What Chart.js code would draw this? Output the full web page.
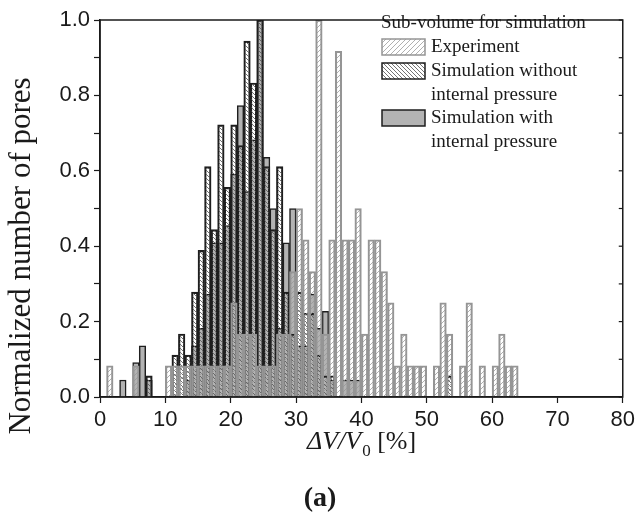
<!DOCTYPE html>
<html><head><meta charset="utf-8">
<script src="https://cdn.jsdelivr.net/npm/chart.js@4.4.0/dist/chart.umd.min.js"></script>
<style>html,body{margin:0;padding:0;background:#fff;}#wrap{width:639px;height:523px;}</style>
</head><body><div id="wrap"><canvas id="c" width="639" height="523"></canvas></div>
<script>
// ---- data (bin start in %, normalized counts) ----
const xTicks = [0, 10, 20, 30, 40, 50, 60, 70, 80];
const yTicks = [0.0, 0.2, 0.4, 0.6, 0.8, 1.0];
const seriesNames = ['Experiment', 'Simulation without internal pressure', 'Simulation with internal pressure'];
const legendTitle = 'Sub-volume for simulation';

const expBins = [1,5,10,11,12,13,14,15,16,17,18,19,20,21,22,23,24,25,26,27,28,29,30,31,32,33,34,35,36,37,38,39,40,41,42,43,44,45,46,47,48,49,51,52,53,55,56,58,60,61,62,63];
const expValues = [0.083,0.083,
  0.083,0.083,0.083,0.083,0.083,0.083,0.083,0.083,0.083,0.083,
  0.25,0.167,0.167,0.167,0.083,0.083,0.083,0.167,0.167,0.333,
  0.5,0.417,0.333,1.0,0.167,0.417,0.917,0.417,0.417,0.5,
  0.167,0.417,0.417,0.333,0.25,0.083,0.167,0.083,0.083,0.083,
  0.083,0.25,0.167,0.083,0.25,0.083,0.083,0.167,0.083,0.083];

const simNoBins = [7,11,12,13,14,15,16,17,18,19,20,21,22,23,24,25,26,27,28,29,30,31,32,33,34,35,53];
const simNoValues = [0.056,0.111,0.167,0.111,0.278,0.389,0.611,0.444,0.722,0.556,0.722,0.667,0.944,0.833,1.0,0.611,0.444,0.611,0.278,0.167,0.278,0.222,0.222,0.111,0.056,0.056,0.056];

const simWithBins = [3,5,6,7,13,14,15,16,17,18,19,20,21,22,23,24,25,26,27,28,29,30,31,32,33,34,35,37,38,39];
const simWithValues = [0.045,0.091,0.136,0.045,0.045,0.136,0.182,0.273,0.409,0.409,0.455,0.591,0.773,0.545,0.682,1.0,0.636,0.5,0.182,0.409,0.5,0.136,0.136,0.273,0.182,0.227,0.045,0.045,0.045,0.045];

const binWidth = 1;

// ---- styling helpers ----
function hatch(color, size, dir, lw) {
  const c = document.createElement('canvas');
  c.width = c.height = size;
  const g = c.getContext('2d');
  g.strokeStyle = color; g.lineWidth = lw;
  g.beginPath();
  if (dir === '/') {
    g.moveTo(0, size); g.lineTo(size, 0);
    g.moveTo(-size, size); g.lineTo(size, -size);
    g.moveTo(0, 2*size); g.lineTo(2*size, 0);
  } else {
    g.moveTo(0, 0); g.lineTo(size, size);
    g.moveTo(-size, 0); g.lineTo(size, 2*size);
    g.moveTo(0, -size); g.lineTo(2*size, size);
  }
  g.stroke();
  return g.createPattern(c, 'repeat');
}
const ctx = document.getElementById('c').getContext('2d');
const expFill = hatch('rgba(150,150,150,0.75)', 5, '/', 1);
const noFill = hatch('rgba(90,90,90,0.85)', 4, '\\', 1);
const withFill = '#b3b3b3';
const expBorder = '#959595';
const darkBorder = '#1e1e1e';

function toPoints(bins, vals) { return bins.map((b, i) => ({ x: b + binWidth / 2, y: vals[i] })); }

const ink = '#1a1a1a';
const serif = '"Liberation Serif", "Times New Roman", serif';
const sans = '"Liberation Sans", Arial, sans-serif';

const decor = {
  id: 'decor',
  afterDraw(chart) {
    const g = chart.ctx, a = chart.chartArea;
    g.save();
    // frame
    g.strokeStyle = ink; g.lineWidth = 1.5;
    g.strokeRect(a.left, a.top, a.right - a.left, a.bottom - a.top);
    // mirrored inward ticks on right axis
    const ys = chart.scales.y;
    g.lineWidth = 1.2;
    for (let v = 0; v <= 1.0001; v += 0.1) {
      const py = ys.getPixelForValue(v);
      g.beginPath(); g.moveTo(a.right, py); g.lineTo(a.right - 4, py); g.stroke();
    }
    g.fillStyle = ink;
    // y title
    g.save();
    g.translate(22, 256); g.rotate(-Math.PI / 2);
    g.font = '31px ' + serif; g.textAlign = 'center'; g.textBaseline = 'middle';
    g.fillText('Normalized number of pores', 0, 0);
    g.restore();
    // x title with subscript
    g.textBaseline = 'alphabetic'; g.textAlign = 'left';
    const f1 = 'italic 26px ' + serif, f2 = '17px ' + serif, f3 = '26px ' + serif;
    const t1 = '\u0394V/V', t2 = '0', t3 = ' [%]';
    g.font = f1; const w1 = g.measureText(t1).width;
    g.font = f2; const w2 = g.measureText(t2).width;
    g.font = f3; const w3 = g.measureText(t3).width;
    let x0 = 361 - (w1 + w2 + w3) / 2, by = 449;
    g.font = f1; g.fillText(t1, x0, by);
    g.font = f2; g.fillText(t2, x0 + w1 + 1, by + 7);
    g.font = f3; g.fillText(t3, x0 + w1 + w2 + 1, by);
    // (a)
    g.font = 'bold 28px ' + serif; g.textAlign = 'center';
    g.fillText('(a)', 320, 506);
    // legend
    g.textAlign = 'left'; g.textBaseline = 'middle';
    g.font = '19px ' + serif;
    g.fillText(legendTitle, 381, 23);
    const bx = 382, bw = 43, bh = 16;
    const items = [
      { y: 47, fill: expFill, border: expBorder, lines: ['Experiment'] },
      { y: 71, fill: noFill, border: darkBorder, lines: ['Simulation without', 'internal pressure'] },
      { y: 118, fill: withFill, border: darkBorder, lines: ['Simulation with', 'internal pressure'] }
    ];
    items.forEach(it => {
      g.fillStyle = '#fff'; g.fillRect(bx, it.y - bh/2, bw, bh);
      g.fillStyle = it.fill; g.fillRect(bx, it.y - bh/2, bw, bh);
      g.strokeStyle = it.border; g.lineWidth = 1.5; g.strokeRect(bx, it.y - bh/2, bw, bh);
      g.fillStyle = ink;
      it.lines.forEach((l, k) => g.fillText(l, 431, it.y + k * 24));
    });
    g.restore();
  }
};

const barOpts = { grouped: false, barPercentage: 1, categoryPercentage: 1, borderWidth: 1.5, borderSkipped: 'start' };

new Chart(ctx, {
  type: 'bar',
  data: {
    datasets: [
      Object.assign({ label: seriesNames[0], data: toPoints(expBins, expValues), backgroundColor: expFill, borderColor: expBorder }, barOpts),
      Object.assign({ label: seriesNames[1], data: toPoints(simNoBins, simNoValues), backgroundColor: noFill, borderColor: darkBorder }, barOpts),
      Object.assign({ label: seriesNames[2], data: toPoints(simWithBins, simWithValues), backgroundColor: withFill, borderColor: darkBorder }, barOpts)
    ]
  },
  options: {
    responsive: false, animation: false, devicePixelRatio: 1,
    layout: { padding: { left: 0, right: 12, top: 20, bottom: 0 } },
    plugins: { legend: { display: false }, tooltip: { enabled: false } },
    scales: {
      x: {
        type: 'linear', min: 0, max: 80, offset: false,
        afterBuildTicks: s => { s.ticks = xTicks.map(v => ({ value: v })); },
        ticks: { color: ink, font: { family: sans, size: 22 }, padding: 4, maxRotation: 0 },
        grid: { drawOnChartArea: false, offset: false, color: ink, tickLength: 6, tickWidth: 1.2 },
        border: { color: ink, width: 1.5 },
        afterFit: s => { s.height = 126; }
      },
      y: {
        min: 0, max: 1.0,
        ticks: { stepSize: 0.1, color: ink, font: { family: sans, size: 22 }, padding: 4,
          callback: v => { const r = Math.round(v * 10); return yTicks.some(t => Math.round(t * 10) === r) ? v.toFixed(1) : ''; } },
        grid: { drawOnChartArea: false, color: ink, tickLength: 6, tickWidth: 1.2 },
        border: { color: ink, width: 1.5 },
        afterFit: s => { s.width = 100; }
      }
    }
  },
  plugins: [decor]
});
</script></body></html>
